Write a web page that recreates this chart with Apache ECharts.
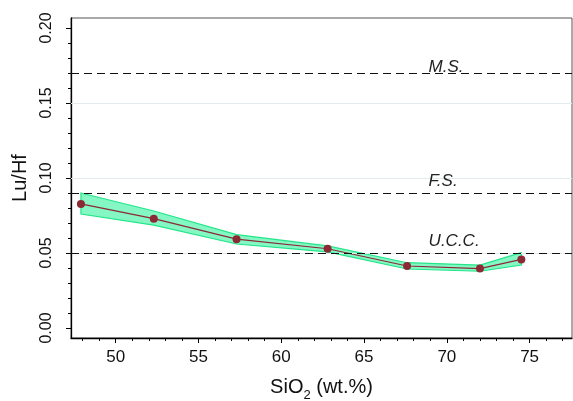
<!DOCTYPE html>
<html>
<head>
<meta charset="utf-8">
<script src="https://cdn.jsdelivr.net/npm/echarts@6/dist/echarts.min.js"></script>
<style>html,body{margin:0;padding:0;background:#fff}#c{width:573px;height:401px}</style>
</head>
<body>
<div id="c"></div>
<script>
// Data
const sio2  = [47.9, 52.3, 57.3, 62.8, 67.6, 72.0, 74.5];
const luhf  = [0.0827, 0.0729, 0.0592, 0.0528, 0.0413, 0.0396, 0.0457];
const upper = [0.0900, 0.0780, 0.0622, 0.0547, 0.0435, 0.0419, 0.0502];
const lower = [0.0760, 0.0686, 0.0560, 0.0507, 0.0393, 0.0378, 0.0420];
const refValues = [0.166, 0.09, 0.05];
const refLabels = ['M.S.', 'F.S.', 'U.C.C.'];
const refLabelX = 68.9;
const gridValues = [0.05, 0.10, 0.15];
const xMajor = [50, 55, 60, 65, 70, 75];
const xMinor = [48,49,50,51,52,53,54,55,56,57,58,59,60,61,62,63,64,65,66,67,68,69,70,71,72,73,74,75,76,77];
const yMajor = [0.00, 0.05, 0.10, 0.15, 0.20];
const yMinor = [0.00,0.01,0.02,0.03,0.04,0.05,0.06,0.07,0.08,0.09,0.10,0.11,0.12,0.13,0.14,0.15,0.16,0.17,0.18,0.19,0.20];

const FONT = 'Liberation Sans';
const X_MIN = 47.3, X_MAX = 77.56, Y_MIN = -0.0067, Y_MAX = 0.2067;

const chart = echarts.init(document.getElementById('c'), null, {renderer: 'canvas'});
const axisLineStyle = {color: '#000', width: 1.3};

chart.setOption({
  animation: false,
  backgroundColor: '#fff',
  grid: {left: 71, right: 1, top: 18, bottom: 63, outerBoundsMode: 'none', containLabel: false,
    show: true, borderColor: '#555', borderWidth: 1, backgroundColor: 'transparent'},
  xAxis: [
    {
      type: 'value', min: X_MIN, max: X_MAX, position: 'bottom',
      axisLine: {show: true, onZero: false, lineStyle: axisLineStyle},
      axisTick: {show: true, customValues: xMajor, length: 5, lineStyle: {color: '#000', width: 1}},
      axisLabel: {customValues: xMajor, fontFamily: FONT, fontSize: 17, color: '#111', margin: 11},
      splitLine: {show: false},
      name: '{a|SiO}{b|2}{a| (wt.%)}', nameLocation: 'middle', nameGap: 35,
      nameTextStyle: {
        fontFamily: FONT, fontSize: 20, color: '#111',
        rich: {
          a: {fontFamily: FONT, fontSize: 20, color: '#111', lineHeight: 24, verticalAlign: 'bottom'},
          b: {fontFamily: FONT, fontSize: 13, color: '#111', lineHeight: 24, verticalAlign: 'bottom', padding: [0, 0, -5, 0]}
        }
      }
    },
    {
      type: 'value', min: X_MIN, max: X_MAX, position: 'bottom',
      axisLine: {show: false, onZero: false},
      axisTick: {show: true, customValues: xMinor, length: 3, lineStyle: {color: '#000', width: 1}},
      axisLabel: {show: false},
      splitLine: {show: false}
    }
  ],
  yAxis: [
    {
      type: 'value', min: Y_MIN, max: Y_MAX, position: 'left',
      axisLine: {show: true, onZero: false, lineStyle: axisLineStyle},
      axisTick: {show: true, customValues: yMajor, length: 5, lineStyle: {color: '#000', width: 1}},
      axisLabel: {customValues: yMajor, rotate: 90, fontFamily: FONT, fontSize: 16, color: '#111', margin: 16,
        formatter: v => v.toFixed(2)},
      splitLine: {show: false},
      name: 'Lu/Hf', nameLocation: 'middle', nameRotate: 90, nameGap: 41,
      nameTextStyle: {fontFamily: FONT, fontSize: 20, color: '#111'}
    },
    {
      type: 'value', min: Y_MIN, max: Y_MAX, position: 'left',
      axisLine: {show: false, onZero: false},
      axisTick: {show: true, customValues: yMinor, length: 3, lineStyle: {color: '#000', width: 1}},
      axisLabel: {show: false},
      splitLine: {show: false}
    }
  ],
  series: [
    {
      // light gridlines
      type: 'line', data: [], silent: true, z: 1,
      markLine: {
        silent: true, symbol: ['none', 'none'], label: {show: false}, animation: false,
        lineStyle: {color: '#e2ebee', width: 1, type: 'solid'},
        data: gridValues.map(v => ({yAxis: v}))
      }
    },
    {
      // uncertainty band
      type: 'custom', name: 'band', z: 2, silent: true,
      data: [[sio2[0], upper[0]]],
      renderItem: function (params, api) {
        const pts = [];
        for (let i = 0; i < sio2.length; i++) pts.push(api.coord([sio2[i], upper[i]]));
        for (let i = sio2.length - 1; i >= 0; i--) pts.push(api.coord([sio2[i], lower[i]]));
        return {
          type: 'polygon',
          shape: {points: pts},
          style: {fill: '#84f7c4', stroke: '#22e688', lineWidth: 1.2}
        };
      }
    },
    {
      type: 'line', name: 'refs', data: [], silent: true, z: 3,
      markLine: {
        silent: true, symbol: ['none', 'none'], label: {show: false}, animation: false,
        lineStyle: {color: '#111', width: 1, type: [8, 5]},
        data: refValues.map(v => ({yAxis: v}))
      },
      markPoint: {
        silent: true, symbol: 'circle', symbolSize: 0, animation: false,
        label: {show: true, position: [0, -3], align: 'left', verticalAlign: 'bottom',
          fontFamily: FONT, fontStyle: 'italic', fontSize: 17, color: '#222',
          formatter: p => p.name},
        data: refValues.map((v, i) => ({name: refLabels[i], coord: [refLabelX, v]}))
      }
    },
    {
      type: 'line', name: 'Lu/Hf', z: 4,
      data: sio2.map((x, i) => [x, luhf[i]]),
      symbol: 'circle', symbolSize: 8, showSymbol: true,
      lineStyle: {color: '#8b2a35', width: 1.2},
      itemStyle: {color: '#8b2a35'}
    }
  ]
});
</script>
</body>
</html>
